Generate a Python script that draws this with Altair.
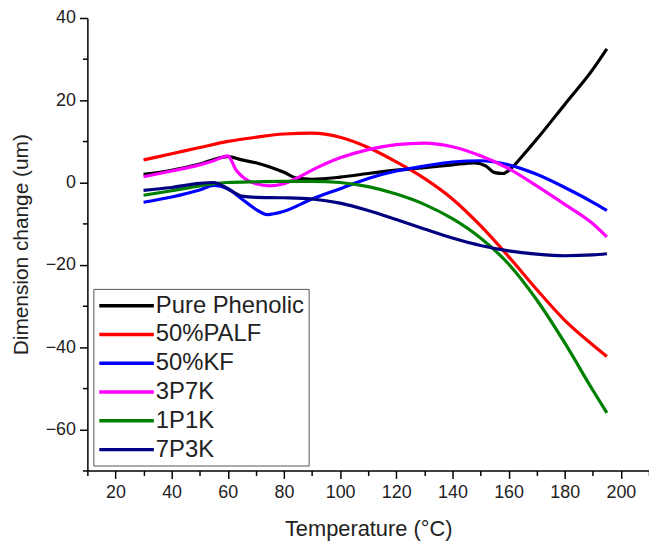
import altair as alt
import pandas as pd

series_names = ["Pure Phenolic", "50%PALF", "50%KF", "3P7K", "1P1K", "7P3K"]
series_colors = ["#000000", "#FF0000", "#0000FF", "#FF00FF", "#008000", "#000080"]

pure_x = [30, 40, 50, 60, 65, 70, 75, 80, 85, 90, 100, 110, 120, 130, 140, 148, 152, 155, 158, 161, 165, 170, 180, 190, 195]
pure_y = [2, 3, 4.5, 6.3, 5.5, 4.8, 3.8, 2.5, 1, 0.8, 1.3, 2.2, 3, 3.6, 4.3, 4.8, 4, 2.4, 2.2, 3.5, 6.5, 10.5, 19, 27.5, 32.5]

palf_x = [30, 40, 50, 60, 70, 80, 90, 100, 110, 120, 130, 140, 150, 160, 170, 180, 190, 195]
palf_y = [5.5, 7, 8.5, 10, 11, 11.8, 12, 11, 8.5, 5, 1, -4, -10.5, -18, -26, -33.5, -39.5, -42.3]

kf_x = [30, 40, 50, 55, 60, 65, 70, 74, 80, 90, 100, 110, 120, 130, 140, 150, 160, 170, 180, 190, 195]
kf_y = [-4.8, -3.5, -1.8, -0.7, -1.5, -4, -6.5, -7.8, -7, -4, -1.5, 1, 2.8, 4, 5, 5.3, 4.3, 2, -1.2, -4.8, -6.8]

p3k7_x = [30, 40, 50, 55, 60, 63, 66, 70, 75, 80, 85, 90, 100, 110, 120, 130, 140, 150, 160, 170, 180, 190, 195]
p3k7_y = [1.4, 2.8, 4.3, 5.3, 6.5, 3, 1, -0.3, -0.8, -0.3, 1.2, 3, 6, 8, 9.2, 9.6, 8.7, 6.5, 3.4, -0.8, -5.3, -10, -13.2]

p1k1_x = [30, 40, 50, 55, 60, 70, 80, 90, 100, 110, 120, 130, 140, 150, 160, 170, 180, 190, 195]
p1k1_y = [-3.1, -2, -0.8, -0.3, 0, 0.2, 0.3, 0.3, 0, -1, -2.8, -5.3, -8.8, -13.5, -19.8, -28.5, -39, -50.5, -56]

p7k3_x = [30, 40, 50, 55, 60, 65, 70, 80, 90, 100, 110, 120, 130, 140, 150, 160, 170, 180, 190, 195]
p7k3_y = [-1.9, -1.2, -0.2, 0, -1.5, -3.3, -3.6, -3.7, -4, -5, -6.8, -9, -11.3, -13.5, -15.3, -16.6, -17.4, -17.8, -17.6, -17.3]

x_ticks = list(range(10, 211, 10))
y_ticks = list(range(-70, 41, 10))

all_x = [pure_x, palf_x, kf_x, p3k7_x, p1k1_x, p7k3_x]
all_y = [pure_y, palf_y, kf_y, p3k7_y, p1k1_y, p7k3_y]

rows = []
for name, xs, ys in zip(series_names, all_x, all_y):
    for i, (xv, yv) in enumerate(zip(xs, ys)):
        rows.append({"series": name, "T": xv, "D": yv, "order": i})
df = pd.DataFrame(rows)

FONT = "Liberation Sans"

chart = alt.Chart(df).mark_line(strokeWidth=3.2, interpolate="monotone").encode(
    x=alt.X("T:Q", title="Temperature (\u00b0C)",
            scale=alt.Scale(domain=[10, 210], nice=False, zero=False),
            axis=alt.Axis(values=x_ticks,
                          labelExpr="datum.value % 20 === 0 ? datum.label : ''",
                          tickSize={"condition": {"test": "datum.value % 20 === 0", "value": 8}, "value": 5},
                          grid=False, domainColor="#000", domainWidth=1.5,
                          tickColor="#000", tickWidth=1.5,
                          labelFont=FONT, labelFontSize=18, labelColor="#222", labelPadding=5,
                          titleFont=FONT, titleFontSize=22, titleFontWeight="normal", titleColor="#222",
                          titlePadding=18)),
    y=alt.Y("D:Q", title="Dimension change (um)",
            scale=alt.Scale(domain=[-70, 40], nice=False, zero=False),
            axis=alt.Axis(values=y_ticks,
                          labelExpr="datum.value % 20 === 0 ? datum.label : ''",
                          tickSize={"condition": {"test": "datum.value % 20 === 0", "value": 8}, "value": 5},
                          grid=False, domainColor="#000", domainWidth=1.5,
                          tickColor="#000", tickWidth=1.5,
                          labelFont=FONT, labelFontSize=18, labelColor="#222", labelPadding=4,
                          titleFont=FONT, titleFontSize=21, titleFontWeight="normal", titleColor="#222",
                          titlePadding=14)),
    color=alt.Color("series:N",
                    scale=alt.Scale(domain=series_names, range=series_colors),
                    legend=alt.Legend(title=None, orient="none", legendX=6, legendY=273,
                                      symbolType="M-1,0H4", symbolSize=484, symbolStrokeWidth=3.5,
                                      labelFont=FONT, labelFontSize=24, labelColor="#222",
                                      labelOffset=33, strokeColor="#555", padding=4,
                                      rowPadding=4)),
    order="order:Q",
).properties(
    width=566, height=456,
    autosize=alt.AutoSizeParams(type="none"),
    padding={"left": 80, "top": 8, "right": 0, "bottom": 69},
).configure_view(stroke=None)

chart.save("out.html", embed_options={"renderer": "svg", "actions": False})
